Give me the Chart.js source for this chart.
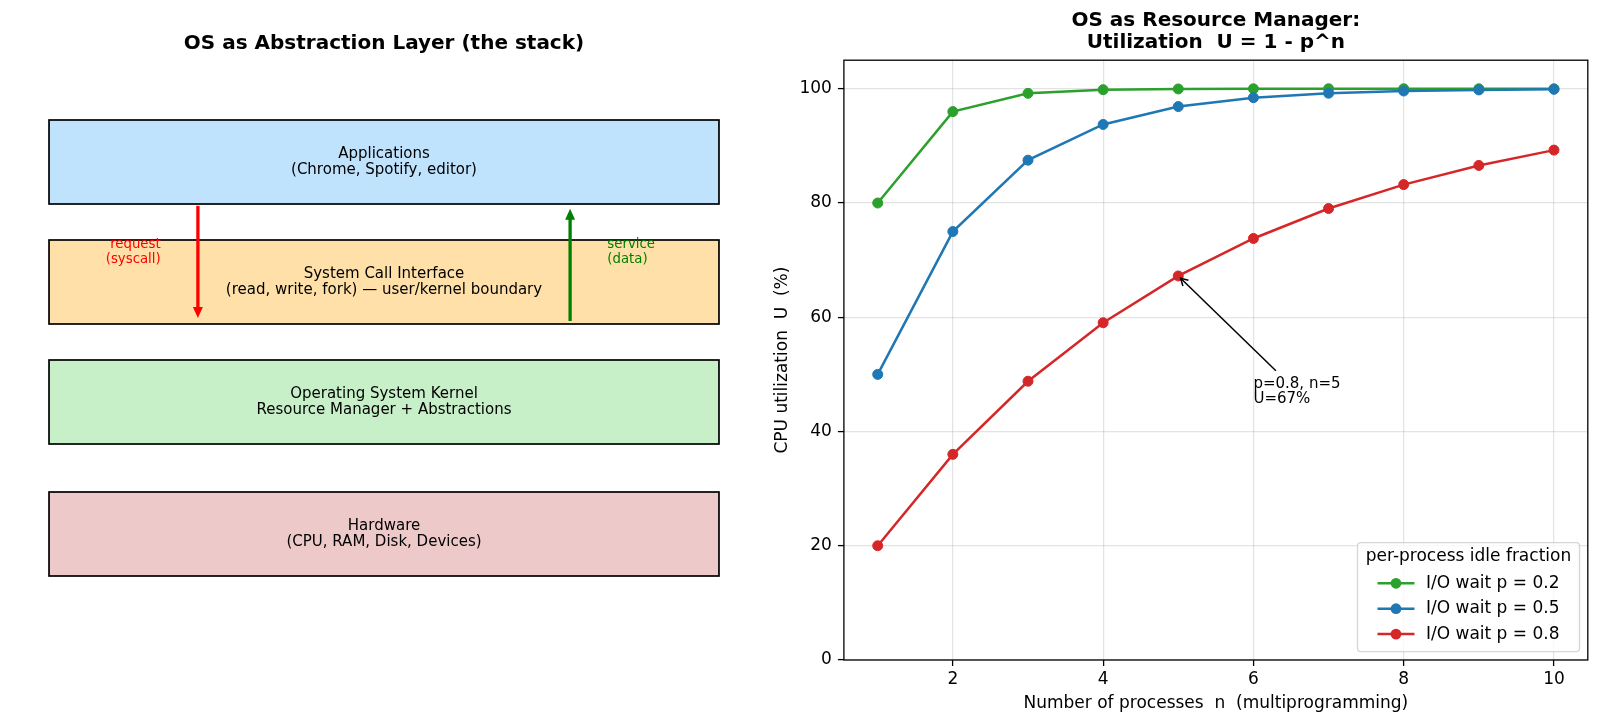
<!DOCTYPE html>
<html>
<head>
<meta charset="utf-8">
<script src="https://cdn.jsdelivr.net/npm/chart.js@4.4.1/dist/chart.umd.min.js"></script>
<style>
  html, body { margin: 0; padding: 0; background: #fff; }
  #wrap { position: relative; width: 1600px; height: 725px; }
  #stackChart { position: absolute; left: 0; top: 0; }
  #utilChart { position: absolute; left: 770px; top: 0; }
</style>
</head>
<body>
<div id="wrap">
  <canvas id="stackChart" width="770" height="725"></canvas>
  <canvas id="utilChart" width="830" height="725"></canvas>
</div>
<script>
// ---- data (right panel) ----
var processCounts = [1, 2, 3, 4, 5, 6, 7, 8, 9, 10];
var utilP02 = [80, 96, 99.2, 99.84, 99.97, 99.99, 100, 100, 100, 100];
var utilP05 = [50, 75, 87.5, 93.75, 96.88, 98.44, 99.22, 99.61, 99.8, 99.9];
var utilP08 = [20, 36, 48.8, 59.04, 67.23, 73.79, 79.03, 83.22, 86.58, 89.26];
var seriesLabels = ['I/O wait p = 0.2', 'I/O wait p = 0.5', 'I/O wait p = 0.8'];
var legendTitle = 'per-process idle fraction';
var xTicks = [2, 4, 6, 8, 10];
var yTicks = [0, 20, 40, 60, 80, 100];
var annotPoint = [5, 67.23];
var annotLines = ['p=0.8, n=5', 'U=67%'];

// ---- left panel: stack layers ----
var layerNames = [
  ['Applications', '(Chrome, Spotify, editor)'],
  ['System Call Interface', '(read, write, fork) \u2014 user/kernel boundary'],
  ['Operating System Kernel', 'Resource Manager + Abstractions'],
  ['Hardware', '(CPU, RAM, Disk, Devices)']
];
var arrowLabels = [['request', '(syscall)'], ['service', '(data)']];

// layout for the diagram (axes units 0..10)
var layerBottoms = [7.6, 5.6, 3.6, 1.4];
var layerHeight = 1.4;
var layerColors = ['#bfe2fd', '#fee0a8', '#c7efc8', '#eec9c9'];
var annotTextAt = [6, 45];

Chart.defaults.font.family = '"DejaVu Sans", sans-serif';
Chart.defaults.color = '#000';

function arrowHead(ctx, x, y, ux, uy, len, half, filled) {
  var bx = x - ux * len, by = y - uy * len;
  var nx = -uy, ny = ux;
  ctx.beginPath();
  ctx.moveTo(bx + nx * half, by + ny * half);
  ctx.lineTo(x, y);
  ctx.lineTo(bx - nx * half, by - ny * half);
  if (filled) { ctx.closePath(); ctx.fill(); } else { ctx.stroke(); }
}

var stackPlugin = {
  id: 'stack',
  afterDraw: function (chart) {
    var ctx = chart.ctx, xs = chart.scales.x, ys = chart.scales.y;
    ctx.save();
    var x0 = xs.getPixelForValue(0.5), x1 = xs.getPixelForValue(9.5);
    var xc = xs.getPixelForValue(5);
    layerNames.forEach(function (lines, i) {
      var yt = ys.getPixelForValue(layerBottoms[i] + layerHeight);
      var yb = ys.getPixelForValue(layerBottoms[i]);
      ctx.fillStyle = layerColors[i];
      ctx.fillRect(x0, yt, x1 - x0, yb - yt);
      ctx.strokeStyle = '#000';
      ctx.lineWidth = 1.7;
      ctx.strokeRect(x0, yt, x1 - x0, yb - yt);
      ctx.fillStyle = '#000';
      ctx.font = '15px "DejaVu Sans"';
      ctx.textAlign = 'center';
      ctx.textBaseline = 'middle';
      var yc = (yt + yb) / 2;
      ctx.fillText(lines[0], xc, yc - 8);
      ctx.fillText(lines[1], xc, yc + 8);
    });

    // request arrow (down) and service arrow (up)
    var arrows = [
      { x: 2.5, from: 7.57, to: 5.7, color: '#ff0000' },
      { x: 7.5, from: 5.65, to: 7.52, color: '#008000' }
    ];
    arrows.forEach(function (a) {
      var px = xs.getPixelForValue(a.x);
      var ya = ys.getPixelForValue(a.from), yb = ys.getPixelForValue(a.to);
      var dir = yb > ya ? 1 : -1;
      ctx.strokeStyle = a.color;
      ctx.fillStyle = a.color;
      ctx.lineWidth = 3.3;
      ctx.beginPath();
      ctx.moveTo(px, ya);
      ctx.lineTo(px, yb - dir * 9);
      ctx.stroke();
      arrowHead(ctx, px, yb, 0, dir, 11, 5, true);
    });

    ctx.font = '13.3px "DejaVu Sans"';
    ctx.textBaseline = 'middle';
    var ly = ys.getPixelForValue(6.8);
    ctx.fillStyle = '#ff0000';
    ctx.textAlign = 'right';
    ctx.fillText(arrowLabels[0][0], xs.getPixelForValue(2.0), ly - 7.5);
    ctx.fillText(arrowLabels[0][1], xs.getPixelForValue(2.0), ly + 7.5);
    ctx.fillStyle = '#008000';
    ctx.textAlign = 'left';
    ctx.fillText(arrowLabels[1][0], xs.getPixelForValue(8.0), ly - 7.5);
    ctx.fillText(arrowLabels[1][1], xs.getPixelForValue(8.0), ly + 7.5);
    ctx.restore();
  }
};

new Chart(document.getElementById('stackChart'), {
  type: 'scatter',
  data: { datasets: [] },
  options: {
    responsive: false,
    animation: false,
    devicePixelRatio: 1,
    layout: { padding: { left: 11.8, right: 13.8, top: 0, bottom: 65 } },
    plugins: {
      legend: { display: false },
      tooltip: { enabled: false },
      title: {
        display: true,
        text: 'OS as Abstraction Layer (the stack)',
        font: { size: 20, weight: 'bold', lineHeight: 1.2 },
        color: '#000',
        padding: { top: 31.5, bottom: 4.5 }
      }
    },
    scales: {
      x: { type: 'linear', min: 0, max: 10, display: false },
      y: { type: 'linear', min: 0, max: 10, display: false }
    }
  },
  plugins: [stackPlugin]
});

// ---- right panel ----
var framePlugin = {
  id: 'frame',
  afterDatasetsDraw: function (chart) {
    var a = chart.chartArea, ctx = chart.ctx;
    ctx.save();
    ctx.strokeStyle = '#000';
    ctx.lineWidth = 1.3;
    ctx.strokeRect(a.left, a.top, a.right - a.left, a.bottom - a.top);
    ctx.restore();
  }
};

var annotPlugin = {
  id: 'annot',
  afterDatasetsDraw: function (chart) {
    var ctx = chart.ctx, xs = chart.scales.x, ys = chart.scales.y;
    var fs = 15, lh = 15.2;
    var px = xs.getPixelForValue(annotPoint[0]), py = ys.getPixelForValue(annotPoint[1]);
    var tx = xs.getPixelForValue(annotTextAt[0]), ty = ys.getPixelForValue(annotTextAt[1]);
    ctx.save();
    ctx.font = fs + 'px "DejaVu Sans"';
    var w = 0;
    annotLines.forEach(function (l) { w = Math.max(w, ctx.measureText(l).width); });
    var n = annotLines.length;
    var top = ty - (n - 1) * lh - 0.76 * fs, bottom = ty + 0.21 * fs;
    var cx = tx + w / 2, cy = (top + bottom) / 2;
    var dx = px - cx, dy = py - cy, len = Math.sqrt(dx * dx + dy * dy);
    var ux = dx / len, uy = dy / len;
    var pad = 3.3, shrink = 3.3;
    var t = Math.min((w / 2 + pad) / Math.abs(dx), ((bottom - top) / 2 + pad) / Math.abs(dy));
    var sx = cx + dx * t + ux * shrink, sy = cy + dy * t + uy * shrink;
    var ex = px - ux * shrink, ey = py - uy * shrink;
    ctx.strokeStyle = '#000';
    ctx.lineWidth = 1.5;
    ctx.beginPath();
    ctx.moveTo(sx, sy);
    ctx.lineTo(ex, ey);
    ctx.stroke();
    arrowHead(ctx, ex, ey, ux, uy, 7, 4, false);
    ctx.fillStyle = '#000';
    ctx.textAlign = 'left';
    ctx.textBaseline = 'alphabetic';
    annotLines.forEach(function (l, i) {
      ctx.fillText(l, tx, ty - (n - 1 - i) * lh);
    });
    ctx.restore();
  }
};

var legendPlugin = {
  id: 'legendBox',
  afterDraw: function (chart) {
    var ctx = chart.ctx, a = chart.chartArea;
    var fs = 17, pad = 8.3, handle = 37, gap = 11.5, h = 109;
    ctx.save();
    ctx.font = fs + 'px "DejaVu Sans"';
    var tw = ctx.measureText(legendTitle).width;
    var lw = 0;
    chart.data.datasets.forEach(function (d) { lw = Math.max(lw, ctx.measureText(d.label).width); });
    var rowW = handle + gap + lw;
    var w = Math.max(tw, rowW) + 2 * pad;
    var right = a.right - pad, bottom = a.bottom - pad;
    var left = right - w, top = bottom - h, r = 3.4;
    ctx.beginPath();
    ctx.moveTo(left + r, top);
    ctx.arcTo(right, top, right, bottom, r);
    ctx.arcTo(right, bottom, left, bottom, r);
    ctx.arcTo(left, bottom, left, top, r);
    ctx.arcTo(left, top, right, top, r);
    ctx.closePath();
    ctx.fillStyle = 'rgba(255,255,255,0.8)';
    ctx.fill();
    ctx.strokeStyle = 'rgba(204,204,204,0.8)';
    ctx.lineWidth = 1.3;
    ctx.stroke();
    ctx.fillStyle = '#000';
    ctx.textAlign = 'center';
    ctx.textBaseline = 'middle';
    ctx.fillText(legendTitle, left + w / 2, top + 14);
    var rowLeft = left + (w - rowW) / 2;
    chart.data.datasets.forEach(function (d, i) {
      var cy = top + 40.6 + i * 25.4;
      ctx.strokeStyle = d.borderColor;
      ctx.lineWidth = 2.5;
      ctx.beginPath();
      ctx.moveTo(rowLeft, cy);
      ctx.lineTo(rowLeft + handle, cy);
      ctx.stroke();
      ctx.fillStyle = d.borderColor;
      ctx.beginPath();
      ctx.arc(rowLeft + handle / 2, cy, 5.4, 0, Math.PI * 2);
      ctx.fill();
      ctx.fillStyle = '#000';
      ctx.textAlign = 'left';
      ctx.fillText(d.label, rowLeft + handle + gap, cy);
    });
    ctx.restore();
  }
};

function points(ys) {
  return processCounts.map(function (n, i) { return { x: n, y: ys[i] }; });
}

function series(label, values, color, order) {
  return {
    label: label,
    data: points(values),
    borderColor: color,
    backgroundColor: color,
    pointBackgroundColor: color,
    pointBorderColor: color,
    borderWidth: 2.5,
    pointRadius: 5,
    pointBorderWidth: 1,
    tension: 0,
    order: order
  };
}

var gridStyle = {
  color: 'rgba(176,176,176,0.35)',
  lineWidth: 1.2,
  tickColor: '#000',
  tickLength: 6,
  tickWidth: 1.3
};

new Chart(document.getElementById('utilChart'), {
  type: 'line',
  data: {
    datasets: [
      series(seriesLabels[0], utilP02, '#2ca02c', 3),
      series(seriesLabels[1], utilP05, '#1f77b4', 2),
      series(seriesLabels[2], utilP08, '#d62728', 1)
    ]
  },
  options: {
    responsive: false,
    animation: false,
    devicePixelRatio: 1,
    layout: { padding: { left: 0, right: 12.2, top: 0, bottom: 0 } },
    plugins: {
      legend: { display: false },
      tooltip: { enabled: false },
      title: {
        display: true,
        fullSize: false,
        text: ['OS as Resource Manager:', 'Utilization  U = 1 - p^n'],
        font: { size: 20, weight: 'bold', lineHeight: 1.1 },
        color: '#000',
        padding: { top: 9.3, bottom: 6.9 }
      }
    },
    scales: {
      x: {
        type: 'linear',
        min: 0.55,
        max: 10.45,
        afterBuildTicks: function (s) { s.ticks = xTicks.map(function (v) { return { value: v }; }); },
        afterFit: function (s) { s.height = 65; },
        ticks: { font: { size: 17 }, color: '#000', padding: 3, maxRotation: 0 },
        grid: gridStyle,
        border: { display: false },
        title: {
          display: true,
          text: 'Number of processes  n  (multiprogramming)',
          font: { size: 17 },
          color: '#000',
          padding: { top: 0, bottom: 11 }
        }
      },
      y: {
        type: 'linear',
        min: 0,
        max: 105,
        afterBuildTicks: function (s) { s.ticks = yTicks.map(function (v) { return { value: v }; }); },
        afterFit: function (s) { s.width = 73.9; },
        ticks: { font: { size: 17 }, color: '#000', padding: 6 },
        grid: gridStyle,
        border: { display: false },
        title: {
          display: true,
          text: 'CPU utilization  U  (%)',
          font: { size: 17 },
          color: '#000',
          padding: { top: 2, bottom: 0 }
        }
      }
    }
  },
  plugins: [framePlugin, annotPlugin, legendPlugin]
});
</script>
</body>
</html>
